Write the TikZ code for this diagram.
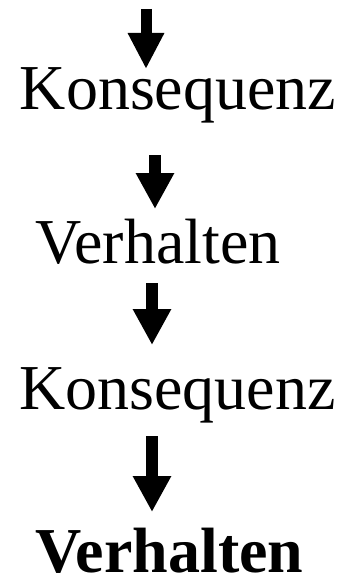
\documentclass[tikz,border=0pt]{standalone}
\usepackage{fontspec}
\setmainfont{Liberation Serif}
\usetikzlibrary{arrows.meta}
\begin{document}
\begin{tikzpicture}[x=1pt,y=-1pt,
  label/.style={inner sep=0pt,anchor=base,font=\fontsize{64}{70}\selectfont},
  blockarrow/.style={line width=11.5pt,
    -{Triangle[length=36pt,width=36pt]}}]
\useasboundingbox (0,0) rectangle (347,578);

% chain of terms
\node[label] (k1) at (178,109) {Konsequenz};
\node[label] (v1) at (158,263) {Verhalten};
\node[label] (k2) at (177.5,409) {Konsequenz};
\node[label,font=\fontsize{64}{70}\selectfont\bfseries] (v2) at (169.5,572) {Verhalten};

% arrow end points
\coordinate (a1s) at (146,9);   \coordinate (a1e) at (146,69);
\coordinate (a2s) at (155,155); \coordinate (a2e) at (155,209);
\coordinate (a3s) at (152,283); \coordinate (a3e) at (152,345);
\coordinate (a4s) at (152,436); \coordinate (a4e) at (152,512);

% downward block arrows
\draw[blockarrow,line width=11pt,-{Triangle[length=36pt,width=34pt]}] (a1s) -- (a1e);
\draw[blockarrow] (a2s) -- (a2e);
\draw[blockarrow,line width=12pt] (a3s) -- (a3e);
\draw[blockarrow,line width=12pt] (a4s) -- (a4e);
\end{tikzpicture}
\end{document}
